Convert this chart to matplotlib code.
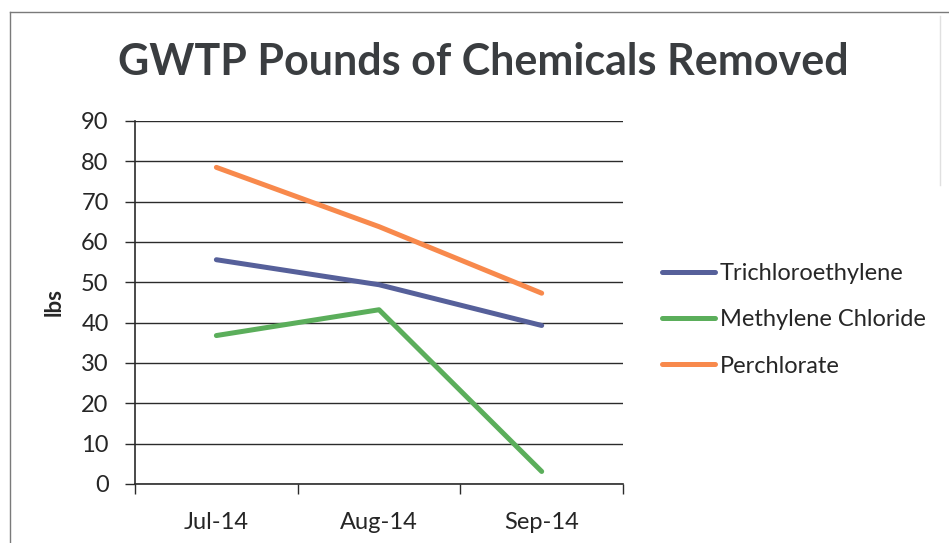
import numpy as np
import matplotlib
matplotlib.use("Agg")
import matplotlib.pyplot as plt
from matplotlib.lines import Line2D

months = ["Jul-14", "Aug-14", "Sep-14"]
trichloroethylene = [55.6, 49.4, 39.3]
methylene_chloride = [36.8, 43.2, 3.1]
perchlorate = [78.5, 63.8, 47.3]
series_names = ["Trichloroethylene", "Methylene Chloride", "Perchlorate"]
y_ticks = [0, 10, 20, 30, 40, 50, 60, 70, 80, 90]

colors = ["#56609A", "#5BAE5B", "#F8894C"]
text_col = "#262626"

plt.rcParams['font.family'] = ['Lato', 'DejaVu Sans']

fig = plt.figure(figsize=(9.49, 5.43), dpi=100)
ax = fig.add_axes([0.1423, 0.1087, 0.5142, 0.6685])

x = np.arange(len(months))
for vals, c, name in zip([trichloroethylene, methylene_chloride, perchlorate], colors, series_names):
    ax.plot(x, vals, color=c, lw=3.6, solid_capstyle="round", label=name, zorder=3)

ax.set_xlim(-0.5, 2.5)
ax.set_ylim(0, 90)
ax.set_yticks(y_ticks)
ax.set_yticklabels([str(v) for v in y_ticks], fontsize=17, color=text_col)
ax.yaxis.grid(True, color="#2b2b2b", lw=1.0)
ax.set_axisbelow(True)

ax.set_xticks([-0.5, 0.5, 1.5, 2.5])
ax.set_xticklabels([])
ax.set_xticks(x, minor=True)
ax.set_xticklabels(months, minor=True, fontsize=17, color=text_col)
ax.tick_params(axis="x", which="minor", length=0, pad=20)
ax.tick_params(axis="both", which="major", direction="out", length=7, width=1, color="#2b2b2b")
ax.tick_params(axis="y", pad=12)

for s in ["top", "right"]:
    ax.spines[s].set_visible(False)
for s in ["left", "bottom"]:
    ax.spines[s].set_color("#2b2b2b")
    ax.spines[s].set_linewidth(1.2)

ax.set_ylabel("lbs", fontsize=16, fontweight="bold", color=text_col, labelpad=12)

fig.suptitle("GWTP Pounds of Chemicals Removed", x=0.509, y=0.886, va="center",
             fontsize=31, fontweight="bold", color="#3a3d40")

leg = ax.legend(loc="center left", bbox_to_anchor=(1.08, 0.452), frameon=False,
                fontsize=17, handlelength=2.25, handletextpad=0.2, labelspacing=1.07,
                borderpad=0, borderaxespad=0, labelcolor=text_col)

# chart border (scanned page frame)
fig.add_artist(Line2D([0.0105, 0.0105], [0, 0.978], color="#7a7a7a", lw=1))
fig.add_artist(Line2D([0.0105, 1.0], [0.978, 0.978], color="#7a7a7a", lw=1))
fig.add_artist(Line2D([0.991, 0.991], [0.66, 0.97], color="#e0e0e0", lw=1))

fig.savefig("out.png", dpi=100)
